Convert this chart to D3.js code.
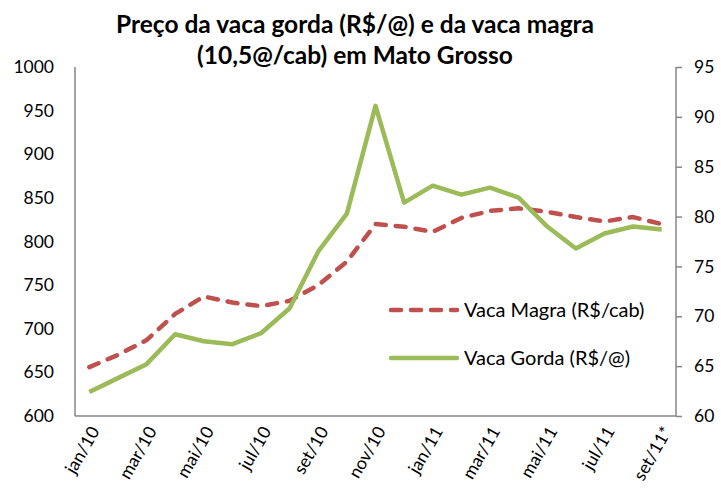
<!DOCTYPE html>
<html>
<head>
<meta charset="utf-8">
<script src="https://cdn.jsdelivr.net/npm/d3@7/dist/d3.min.js"></script>
<style>
  body { margin: 0; background: #fff; }
  svg { display: block; font-family: Lato, "Open Sans", sans-serif; }
</style>
</head>
<body>
<svg id="chart" width="721" height="495"></svg>
<script>
// months, jan/10 .. set/11*
const months = ["jan/10", "fev/10", "mar/10", "abr/10", "mai/10", "jun/10", "jul/10", "ago/10",
  "set/10", "out/10", "nov/10", "dez/10", "jan/11", "fev/11", "mar/11", "abr/11", "mai/11",
  "jun/11", "jul/11", "ago/11", "set/11*"];
// Vaca Magra (R$/cab) - left axis
const magra = [656, 670, 687, 717, 737, 730, 726, 732, 750, 777, 820, 817, 811, 827, 835, 838,
  834, 828, 823, 828, 820];
// Vaca Gorda (R$/@) - right axis
const gorda = [62.4, 63.8, 65.2, 68.2, 67.5, 67.2, 68.3, 70.8, 76.5, 80.3, 91.1, 81.4, 83.1,
  82.2, 82.9, 81.9, 79.0, 76.8, 78.3, 79.0, 78.7];
const leftTicks = [600, 650, 700, 750, 800, 850, 900, 950, 1000];
const rightTicks = [60, 65, 70, 75, 80, 85, 90, 95];

const svg = d3.select("#chart");
const plotL = 75, plotR = 676, plotT = 67, plotB = 416;
const red = "#c0504d", green = "#9bbb59", axisCol = "#868686";

var x = d3.scalePoint().domain(months).range([plotL, plotR]).padding(0.5);
var yL = d3.scaleLinear().domain([600, 1000]).range([plotB, plotT]);
var yR = d3.scaleLinear().domain([60, 95]).range([plotB, plotT]);

// title
svg.append("text").attr("x", 355).attr("y", 33).attr("text-anchor", "middle")
  .attr("font-size", 24.5).attr("font-weight", "bold")
  .text("Preço da vaca gorda (R$/@) e da vaca magra");
svg.append("text").attr("x", 355).attr("y", 64).attr("text-anchor", "middle")
  .attr("font-size", 24.5).attr("font-weight", "bold")
  .text("(10,5@/cab) em Mato Grosso");

// left axis
var gl = svg.append("g").attr("transform", "translate(" + plotL + ",0)")
  .call(d3.axisLeft(yL).tickValues(leftTicks).tickFormat(d3.format("d")).tickSize(0).tickPadding(21));
// right axis
var gr = svg.append("g").attr("transform", "translate(" + plotR + ",0)")
  .call(d3.axisRight(yR).tickValues(rightTicks).tickSizeInner(6).tickSizeOuter(0).tickPadding(12));
// bottom axis
var gb = svg.append("g").attr("transform", "translate(0," + plotB + ")")
  .call(d3.axisBottom(x).tickSize(0).tickFormat((d, i) => i % 2 === 0 ? d : ""));

[gl, gr, gb].forEach(g => {
  g.select(".domain").attr("stroke", axisCol).attr("stroke-width", 1.5);
  g.selectAll(".tick line").attr("stroke", axisCol).attr("stroke-width", 1.5);
  g.selectAll("text").attr("font-size", 17.5).attr("fill", "#000")
    .attr("font-family", "Lato, 'Open Sans', sans-serif");
});
gl.select(".domain").attr("d", "M0," + plotT + "V" + plotB);
gr.select(".domain").attr("d", "M0," + plotT + "V" + plotB);
gb.select(".domain").attr("d", "M" + plotL + ",0H" + plotR);

gb.selectAll(".tick text")
  .attr("text-anchor", "end")
  .attr("transform", "translate(5,12) rotate(-60)")
  .attr("dy", "0.35em").attr("y", 0).attr("x", 0);

// lines
var lineL = d3.line().x((d, i) => x(months[i])).y(d => yL(d));
var lineR = d3.line().x((d, i) => x(months[i])).y(d => yR(d));

svg.append("path").datum(magra).attr("d", lineL)
  .attr("fill", "none").attr("stroke", red).attr("stroke-width", 4.5)
  .attr("stroke-dasharray", "10 10").attr("stroke-linecap", "round").attr("stroke-linejoin", "round");
svg.append("path").datum(gorda).attr("d", lineR)
  .attr("fill", "none").attr("stroke", green).attr("stroke-width", 4.5)
  .attr("stroke-linejoin", "round");

// legend
const legend = [
  { name: "Vaca Magra (R$/cab)", color: red, dash: "10 10", y: 310 },
  { name: "Vaca Gorda (R$/@)", color: green, dash: null, y: 358 }
];
legend.forEach(l => {
  svg.append("line").attr("x1", 391).attr("x2", 457).attr("y1", l.y).attr("y2", l.y)
    .attr("stroke", l.color).attr("stroke-width", 4.5).attr("stroke-linecap", "round")
    .attr("stroke-dasharray", l.dash);
  svg.append("text").attr("x", 464).attr("y", l.y).attr("dy", "0.35em")
    .attr("font-size", 20).text(l.name);
});
</script>
</body>
</html>
